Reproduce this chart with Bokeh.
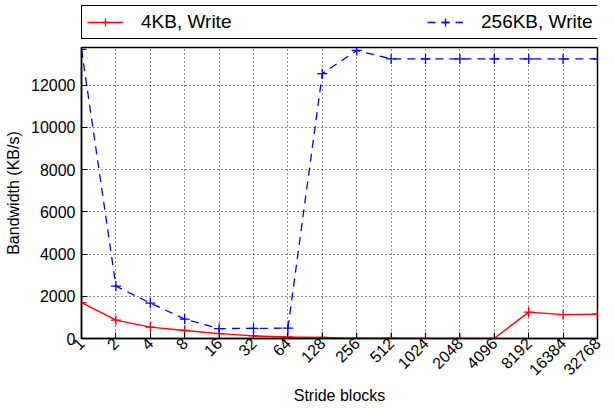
import math
from bokeh.plotting import figure
from bokeh.layouts import column
from bokeh.models import (FixedTicker, Legend, LegendItem, Range1d)
from bokeh.embed import file_html
from bokeh.resources import INLINE

stride_labels = ["1", "2", "4", "8", "16", "32", "64", "128", "256", "512",
                 "1024", "2048", "4096", "8192", "16384", "32768"]
write_4kb = [1700, 870, 540, 380, 230, 120, 70, 50, 20, 15, 10, 10, 10, 1250, 1130, 1150]
write_256kb = [13700, 2480, 1680, 920, 470, 480, 490, 12550, 13650, 13250, 13250,
               13250, 13250, 13250, 13250, 13250]
y_ticks = [0, 2000, 4000, 6000, 8000, 10000, 12000]
series_names = ["4KB, Write", "256KB, Write"]

xs = list(range(len(stride_labels)))
FONT = "Liberation Sans"

# main plot (frame starts at its top edge; the legend strip sits above it)
p = figure(width=614, height=362, output_backend="svg", toolbar_location=None,
           x_range=Range1d(0, len(stride_labels) - 1), y_range=Range1d(0, 13790),
           min_border_left=81, min_border_right=17, min_border_top=1, min_border_bottom=70)
p.background_fill_color = "white"
p.border_fill_color = "white"
p.outline_line_color = "black"
p.outline_line_width = 1.5

p.line(xs, write_4kb, line_color="red", line_width=1.3)
p.scatter(xs, write_4kb, marker="cross", size=10, line_color="red", line_width=1.3)
p.line(xs, write_256kb, line_color="blue", line_width=1.3, line_dash="8 6")
p.scatter(xs, write_256kb, marker="cross", size=10, line_color="blue", line_width=1.3)

p.xaxis.ticker = FixedTicker(ticks=xs)
p.xaxis.major_label_overrides = {i: s for i, s in enumerate(stride_labels)}
p.xaxis.major_label_orientation = math.pi / 4
p.yaxis.ticker = FixedTicker(ticks=y_ticks)
p.yaxis.formatter.use_scientific = False

for ax in (p.xaxis[0], p.yaxis[0]):
    ax.axis_line_color = "black"
    ax.axis_line_width = 1.5
    ax.major_tick_in = 6
    ax.major_tick_out = 0
    ax.minor_tick_line_color = None
    ax.major_label_text_font = FONT
    ax.major_label_text_font_size = "16px"
    ax.major_label_text_color = "black"
    ax.axis_label_text_font = FONT
    ax.axis_label_text_font_style = "normal"
    ax.axis_label_text_font_size = "16px"
    ax.axis_label_text_color = "black"

p.xaxis.axis_label = "Stride blocks"
p.yaxis.axis_label = "Bandwidth (KB/s)"
p.xaxis.major_label_standoff = 2
p.yaxis.major_label_standoff = 6
p.xaxis.axis_label_standoff = 4
p.yaxis.axis_label_standoff = 6

p.grid.grid_line_color = "black"
p.grid.grid_line_dash = "1 3"
p.grid.grid_line_width = 1
p.grid.grid_line_alpha = 0.9
p.xgrid.ticker = FixedTicker(ticks=xs)
p.ygrid.ticker = FixedTicker(ticks=y_ticks)

# legend strip above the plot (its series are drawn out of view; only the legend shows)
lf = figure(width=614, height=46, output_backend="svg", toolbar_location=None,
            x_range=Range1d(-1000, -999), y_range=Range1d(-1000, -999),
            min_border_left=0, min_border_right=0, min_border_top=0, min_border_bottom=0)
lf.axis.visible = False
lf.grid.visible = False
lf.outline_line_color = None
lf.background_fill_color = "white"
lf.border_fill_color = "white"
e1 = lf.line(xs, write_4kb, line_color="red", line_width=1.3)
e1m = lf.scatter(xs, write_4kb, marker="cross", size=10, line_color="red", line_width=1.3)
e2 = lf.line(xs, write_256kb, line_color="blue", line_width=1.3, line_dash="8 6")
e2m = lf.scatter(xs, write_256kb, marker="cross", size=10, line_color="blue", line_width=1.3)

legend = Legend(items=[LegendItem(label=series_names[0], renderers=[e1, e1m]),
                       LegendItem(label=series_names[1], renderers=[e2, e2m])],
                orientation="horizontal", location=(0, 7))
legend.label_text_font = FONT
legend.label_text_font_size = "19px"
legend.label_text_color = "black"
legend.border_line_color = "black"
legend.border_line_alpha = 1.0
legend.border_line_width = 1.5
legend.glyph_width = 36
legend.glyph_height = 20
legend.label_height = 20
legend.label_width = 92
legend.spacing = 194
legend.padding = 5
legend.margin = 0
legend.label_standoff = 18
legend.background_fill_alpha = 1
lf.add_layout(legend, "center")

layout = column(lf, p, spacing=0)
open("out.html", "w").write(file_html(layout, INLINE))
